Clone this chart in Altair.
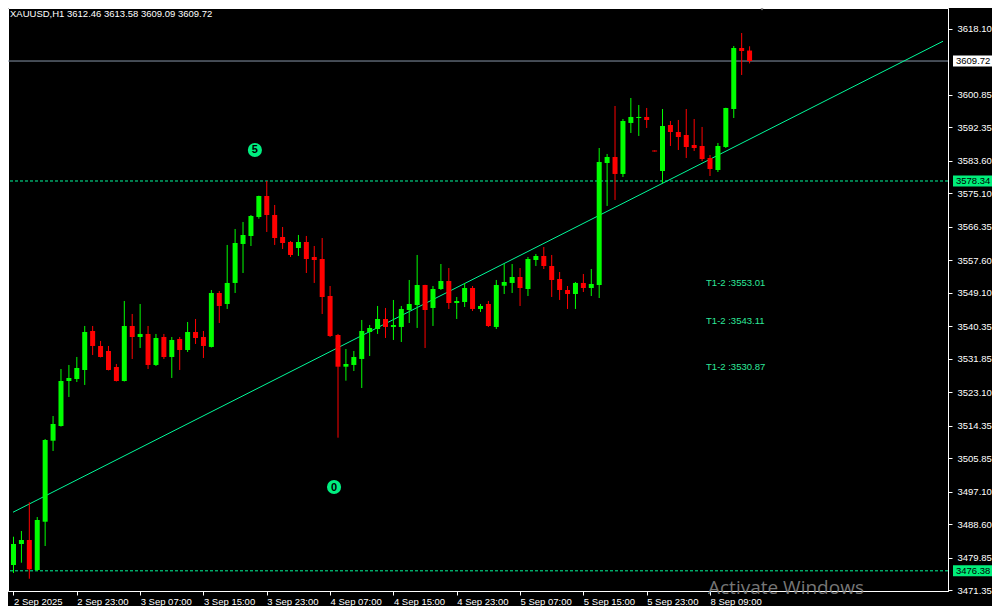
import altair as alt
import pandas as pd

# ---------------- data ----------------
symbol = "XAUUSD,H1"
x_labels = ["2 Sep 2025", "2 Sep 23:00", "3 Sep 07:00", "3 Sep 15:00", "3 Sep 23:00",
            "4 Sep 07:00", "4 Sep 15:00", "4 Sep 23:00", "5 Sep 07:00", "5 Sep 15:00",
            "5 Sep 23:00", "8 Sep 09:00"]
x_label_bars = [0, 8, 16, 24, 32, 40, 48, 56, 64, 72, 80, 88]
y_ticks = [3618.10, 3600.85, 3592.35, 3583.60, 3575.10, 3566.35, 3557.60, 3549.10,
           3540.35, 3531.85, 3523.10, 3514.35, 3505.85, 3497.10, 3488.60, 3479.85, 3471.35]

open_ = [3477.90, 3483.39, 3484.44, 3476.59, 3489.22, 3510.41, 3514.26, 3526.03, 3526.55, 3528.91,
         3539.11, 3535.19, 3533.88, 3529.69, 3526.03, 3540.42, 3537.54, 3538.33, 3530.22, 3537.54,
         3532.31, 3537.02, 3534.14, 3538.85, 3537.54, 3534.93, 3549.05, 3546.17, 3551.67, 3561.87,
         3563.96, 3568.93, 3574.42, 3569.45, 3563.69, 3562.39, 3560.82, 3562.39, 3558.46, 3557.94,
         3548.26, 3538.06, 3529.77, 3530.22, 3531.79, 3538.85, 3539.63, 3542.25, 3540.16, 3540.16,
         3544.60, 3545.91, 3551.14, 3545.13, 3550.09, 3552.18, 3546.43, 3546.69, 3550.35, 3544.87,
         3546.17, 3540.16, 3550.95, 3551.67, 3553.23, 3550.09, 3557.68, 3558.72, 3556.11, 3552.71,
         3549.83, 3548.78, 3551.67, 3550.35, 3551.14, 3583.05, 3584.62, 3580.18, 3593.52, 3594.82,
         3595.09, 3586.32, 3580.96, 3592.99, 3591.16, 3590.37, 3587.76, 3587.50, 3584.36, 3581.22,
         3587.23, 3597.17, 3613.13, 3612.46]
high_ = [3485.30, 3486.79, 3494.30, 3490.45, 3510.86, 3516.87, 3529.17, 3530.22, 3532.31, 3540.42,
         3540.42, 3536.50, 3535.19, 3530.48, 3546.96, 3543.56, 3546.17, 3540.42, 3538.33, 3538.33,
         3537.54, 3537.54, 3541.46, 3542.25, 3539.11, 3549.83, 3549.57, 3561.61, 3565.79, 3567.62,
         3569.45, 3574.50, 3578.34, 3572.07, 3566.31, 3562.65, 3564.22, 3563.96, 3561.34, 3563.43,
         3550.88, 3538.33, 3534.40, 3533.88, 3541.99, 3540.68, 3545.65, 3545.13, 3547.22, 3545.65,
         3552.45, 3558.99, 3551.20, 3550.88, 3556.63, 3555.58, 3548.00, 3551.67, 3550.88, 3546.17,
         3546.96, 3552.45, 3556.63, 3556.63, 3555.58, 3558.46, 3559.25, 3561.08, 3558.99, 3554.54,
         3550.88, 3551.92, 3554.02, 3555.32, 3586.97, 3585.41, 3597.96, 3594.56, 3600.05, 3598.22,
         3597.44, 3586.32, 3597.17, 3594.04, 3594.30, 3597.17, 3594.56, 3592.47, 3585.14, 3588.28,
         3597.50, 3613.65, 3617.05, 3613.58]
low_ = [3475.81, 3478.50, 3474.31, 3476.33, 3482.87, 3507.72, 3514.10, 3521.85, 3525.77, 3524.99,
        3532.83, 3532.20, 3528.80, 3525.90, 3525.90, 3531.79, 3534.66, 3529.17, 3529.95, 3531.79,
        3526.82, 3528.91, 3533.62, 3535.71, 3532.05, 3534.80, 3541.20, 3544.87, 3549.05, 3554.28,
        3561.34, 3568.48, 3565.01, 3561.61, 3560.56, 3558.46, 3558.73, 3554.28, 3551.67, 3543.56,
        3537.54, 3511.20, 3526.11, 3528.65, 3524.20, 3532.57, 3538.33, 3537.28, 3536.76, 3536.23,
        3541.20, 3539.90, 3534.66, 3540.42, 3549.83, 3544.87, 3542.25, 3545.38, 3544.34, 3544.08,
        3540.16, 3539.63, 3548.78, 3549.05, 3545.65, 3548.26, 3556.11, 3555.32, 3548.00, 3547.22,
        3544.87, 3544.87, 3549.31, 3548.26, 3547.74, 3571.81, 3573.38, 3579.39, 3590.90, 3590.12,
        3592.21, 3586.06, 3577.82, 3587.50, 3586.45, 3584.36, 3586.19, 3583.57, 3579.65, 3580.70,
        3586.97, 3594.82, 3606.07, 3609.09]
close_ = [3483.39, 3484.44, 3476.77, 3489.67, 3510.59, 3514.78, 3526.03, 3526.82, 3529.43, 3538.85,
          3535.19, 3532.31, 3528.91, 3526.03, 3540.42, 3537.54, 3538.33, 3530.22, 3537.28, 3532.31,
          3536.76, 3534.14, 3538.85, 3537.28, 3535.19, 3549.05, 3545.65, 3551.67, 3562.13, 3564.22,
          3569.19, 3574.42, 3569.45, 3563.43, 3562.13, 3558.99, 3562.39, 3557.94, 3557.68, 3548.00,
          3537.80, 3529.77, 3530.48, 3532.31, 3539.11, 3539.90, 3542.25, 3540.16, 3540.68, 3544.87,
          3546.17, 3551.14, 3544.60, 3550.09, 3552.18, 3546.43, 3546.96, 3550.35, 3544.87, 3545.65,
          3540.42, 3551.14, 3551.92, 3553.23, 3550.35, 3557.94, 3558.72, 3556.11, 3552.45, 3549.83,
          3548.78, 3551.67, 3550.35, 3551.40, 3583.31, 3584.62, 3580.18, 3594.04, 3595.09, 3595.09,
          3594.30, 3586.06, 3592.73, 3591.16, 3589.85, 3587.23, 3586.97, 3584.10, 3581.48, 3587.50,
          3597.44, 3613.13, 3612.35, 3609.72]

trend_bars = [-0.0625, 117.4375]
trend_prices = [3491.7, 3614.9]
support_levels = [3578.34, 3476.38]
last_price = 3609.72
target_prices = [3553.01, 3543.11, 3530.87]
target_bar = 87.5
wave_labels = ["5", "0"]
wave_bars = [30.5, 40.5]
wave_prices = [3586.45, 3498.3]
watermark = "Activate Windows"

# ---------------- layout / style ----------------
W, H = 940, 583
X_DOMAIN = [-0.0625, 117.4375]
Y_DOMAIN = [3471.10, 3623.59]
UP, DOWN = "#00FF00", "#FF0000"
MINT = "#00FA9A"
TAG = "#00EE7A"
FONT = "Liberation Sans"

xs = alt.Scale(domain=X_DOMAIN, nice=False, zero=False)
ys = alt.Scale(domain=Y_DOMAIN, nice=False, zero=False)

bars = pd.DataFrame({"k": list(range(len(open_))), "open": open_, "high": high_,
                     "low": low_, "close": close_})

label_expr = "[" + ",".join("'%s'" % s for s in x_labels) + "][round(datum.value / 8)]"

x_axis = alt.Axis(values=x_label_bars, labelExpr=label_expr, labelAlign="left",
                  labelFlush=False, labelOverlap=False, tickSize=4, labelPadding=1,
                  labelColor="#FFFFFF", tickColor="#FFFFFF", domainColor="#FFFFFF",
                  labelFont=FONT, labelFontSize=9.5, grid=False, title=None)
y_axis = alt.Axis(orient="right", values=y_ticks, format=".2f", tickSize=4, labelPadding=5,
                  labelOverlap=False, labelColor="#FFFFFF", tickColor="#FFFFFF",
                  domainColor="#FFFFFF", labelFont=FONT, labelFontSize=9.5, grid=False,
                  title=None, labelBaseline="middle")


def X(field):
    return alt.X(field, scale=xs, axis=x_axis)


def Y(field):
    return alt.Y(field, scale=ys, axis=y_axis)


base = alt.Chart(bars).transform_calculate(
    dir="datum.close >= datum.open ? 'up' : 'down'")
col = alt.Color("dir:N", scale=alt.Scale(domain=["up", "down"], range=[UP, DOWN]), legend=None)

wicks = base.mark_rule(strokeWidth=1).encode(x=X("k:Q"), y=Y("low:Q"), y2="high:Q", color=col)
bodies = base.mark_bar(size=5).encode(x=X("k:Q"), y=Y("open:Q"), y2="close:Q", color=col)

# horizontal lines
last_df = pd.DataFrame({"price": [last_price]})
sup_df = pd.DataFrame({"price": support_levels})
last_line = alt.Chart(last_df).mark_rule(color="#8796A8", strokeWidth=1).encode(y=Y("price:Q"))
sup_lines = alt.Chart(sup_df).mark_rule(color=MINT, strokeWidth=1, strokeDash=[3, 2]).encode(
    y=Y("price:Q"))

# trend line
trend_df = pd.DataFrame({"k": trend_bars, "price": trend_prices})
trend = alt.Chart(trend_df).mark_line(color=MINT, strokeWidth=1, clip=True).encode(
    x=X("k:Q"), y=Y("price:Q"))

# target texts
tgt_df = pd.DataFrame({"price": target_prices, "k": [target_bar] * len(target_prices),
                       "label": ["T1-2 :%.2f" % p for p in target_prices]})
targets = alt.Chart(tgt_df).mark_text(align="left", baseline="top", color="#2EE89A",
                                      font=FONT, fontSize=9.5).encode(
    x=X("k:Q"), y=Y("price:Q"), text="label:N")

# wave circles
wave_df = pd.DataFrame({"k": wave_bars, "price": wave_prices, "label": wave_labels})
circles = alt.Chart(wave_df).mark_point(shape="circle", filled=True, size=200,
                                        color="#00EE80", opacity=1).encode(
    x=X("k:Q"), y=Y("price:Q"))
digits = alt.Chart(wave_df).mark_text(fontWeight="bold", fontSize=11, color="#000000",
                                      font=FONT, baseline="middle", align="center", dy=0.5).encode(
    x=X("k:Q"), y=Y("price:Q"), text="label:N")


# price tags on the right axis
def tag_layer(df, fill):
    rect = alt.Chart(df).transform_calculate(
        lo="datum.price - 1.45", hi="datum.price + 1.45"
    ).mark_rect(color=fill).encode(
        x=alt.value(W + 5), x2=alt.value(W + 44), y=Y("lo:Q"), y2="hi:Q")
    txt = alt.Chart(df).mark_text(align="left", baseline="middle", color="#000000",
                                  font=FONT, fontSize=9.5).encode(
        x=alt.value(W + 8), y=Y("price:Q"), text=alt.Text("price:Q", format=".2f"))
    return rect + txt


last_tag = tag_layer(last_df, "#FFFFFF")
sup_tag = tag_layer(sup_df, TAG)

# title text (symbol + last bar OHLC)
title_df = pd.DataFrame({"t": ["%s  %.2f %.2f %.2f %.2f" % (symbol, open_[-1], high_[-1],
                                                           low_[-1], close_[-1])]})
title = alt.Chart(title_df).mark_text(align="left", baseline="top", color="#FFFFFF",
                                      font=FONT, fontSize=9.5).encode(
    x=alt.value(2), y=alt.value(1), text="t:N")

# chart shift marker
shift = alt.Chart(pd.DataFrame({"a": [0]})).mark_point(
    shape="triangle-down", filled=True, size=36, color="#9A9A9A", opacity=1).encode(
    x=alt.value(754), y=alt.value(0))

wm = alt.Chart(pd.DataFrame({"t": [watermark]})).mark_text(
    align="left", baseline="alphabetic", font="Open Sans", fontSize=19,
    color="#8A8A8A", opacity=0.85).encode(x=alt.value(700), y=alt.value(586), text="t:N")

chart = alt.layer(
    last_line, sup_lines, trend, wicks, bodies, targets, circles, digits,
    last_tag, sup_tag, title, shift, wm
).properties(
    width=W, height=H,
    autosize=alt.AutoSizeParams(type="none"),
    padding={"left": 0, "top": 0, "right": 44, "bottom": 15},
).configure(background="#000000").configure_view(stroke="#FFFFFF", strokeWidth=1)

chart.save("out.html", embed_options={"renderer": "svg", "actions": False})
